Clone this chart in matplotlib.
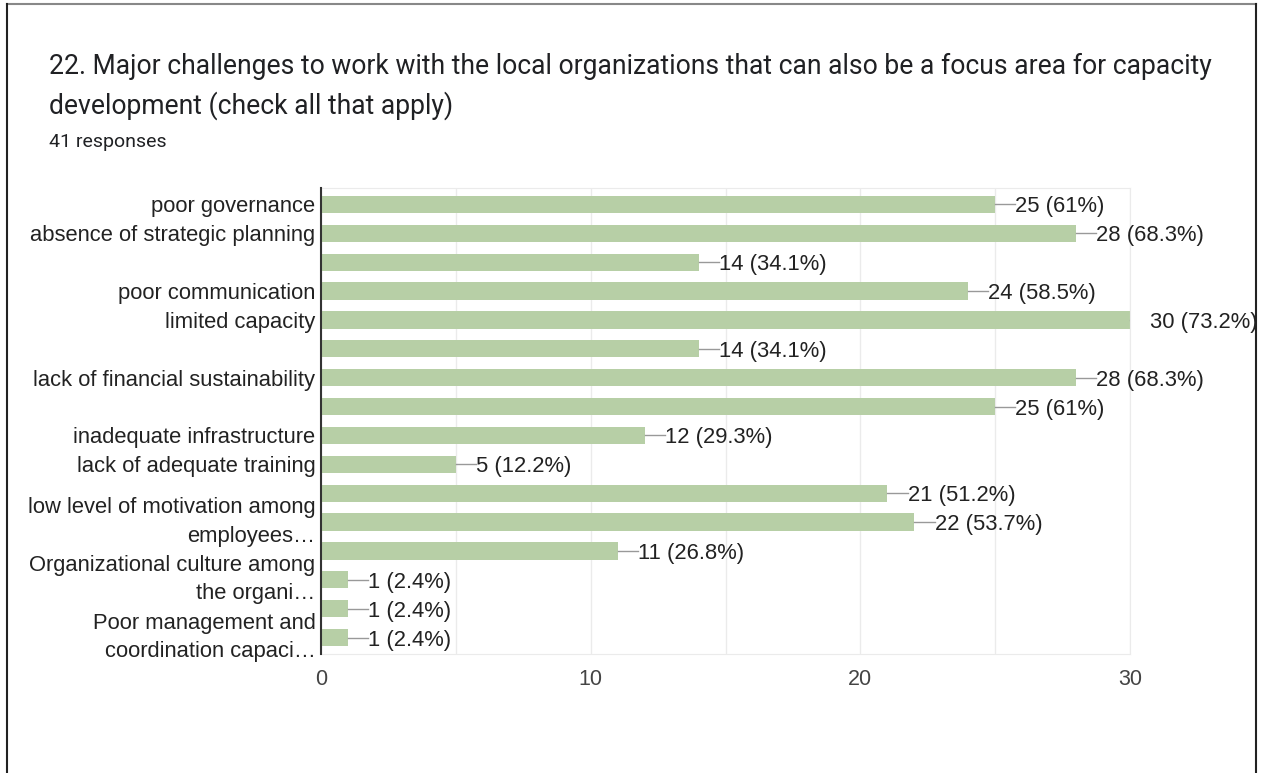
import matplotlib.pyplot as plt
from matplotlib.lines import Line2D

title = ("22. Major challenges to work with the local organizations that can also be a focus area for capacity\n"
         "development (check all that apply)")
subtitle = "41 responses"

labels = ["poor governance", "absence of strategic planning", "", "poor communication",
          "limited capacity", "", "lack of financial sustainability", "",
          "inadequate infrastructure", "lack of adequate training", "",
          "low level of motivation among\nemployees\u2026", "",
          "Organizational culture among\nthe organi\u2026", "",
          "Poor management and\ncoordination capaci\u2026"]
counts = [25, 28, 14, 24, 30, 14, 28, 25, 12, 5, 21, 22, 11, 1, 1, 1]
percents = ["61%", "68.3%", "34.1%", "58.5%", "73.2%", "34.1%", "68.3%", "61%",
            "29.3%", "12.2%", "51.2%", "53.7%", "26.8%", "2.4%", "2.4%", "2.4%"]
xticks = [0, 10, 20, 30]

bar_color = "#b7cfa6"
text_color = "#222222"
label_size = 15.8

fig = plt.figure(figsize=(12.62, 7.73), dpi=100)

# card border
fig.add_artist(Line2D([0.0055, 0.9955], [0.9945, 0.9945], color="#888888", lw=1.5))
fig.add_artist(Line2D([0.0055, 0.0055], [0, 0.9945], color="#222222", lw=1.5))
fig.add_artist(Line2D([0.9955, 0.9955], [0, 0.9945], color="#222222", lw=1.5))

fig.text(0.039, 0.931, title, fontsize=19.1, family="Roboto", color="#202124",
         va="top", linespacing=1.5)
fig.text(0.039, 0.816, subtitle, fontsize=14, family="Roboto", color="#202124", va="center")

ax = fig.add_axes([0.2544, 0.1539, 0.6410, 0.6029])
pos = list(range(len(counts)))
ax.barh(pos, counts, height=0.6, color=bar_color, zorder=2)

for y, c, p in zip(pos, counts, percents):
    ax.plot([c, c + 0.75], [y, y], color="#999999", lw=1, zorder=3, clip_on=True)
    ax.text(c + 0.75, y, f"{c} ({p})", va="center_baseline", ha="left", fontsize=label_size,
            family="Liberation Sans", color=text_color, clip_on=False)

ax.set_xlim(0, 30)
ax.set_ylim(15.57, -0.57)
ax.set_xticks(xticks)
ax.set_xticks([5, 15, 25], minor=True)
ax.grid(axis="x", which="both", color="#ebebeb", lw=1, zorder=0)
ax.tick_params(axis="x", which="both", length=0, labelsize=15.5, labelcolor="#444444", pad=11)
for t in ax.get_xticklabels():
    t.set_family("Liberation Sans")

ax.set_yticks(pos)
ax.set_yticklabels(labels, fontsize=label_size, family="Liberation Sans", color=text_color,
                   linespacing=1.45)
for t in ax.get_yticklabels():
    t.set_va("center" if "\n" in t.get_text() else "center_baseline")
ax.tick_params(axis="y", length=0, pad=4)

for s in ["top", "bottom", "right"]:
    ax.spines[s].set_color("#ebebeb")
ax.spines["left"].set_color("#333333")
ax.spines["left"].set_linewidth(1.5)
ax.spines["left"].set_zorder(4)

fig.savefig("out.png", dpi=100)
